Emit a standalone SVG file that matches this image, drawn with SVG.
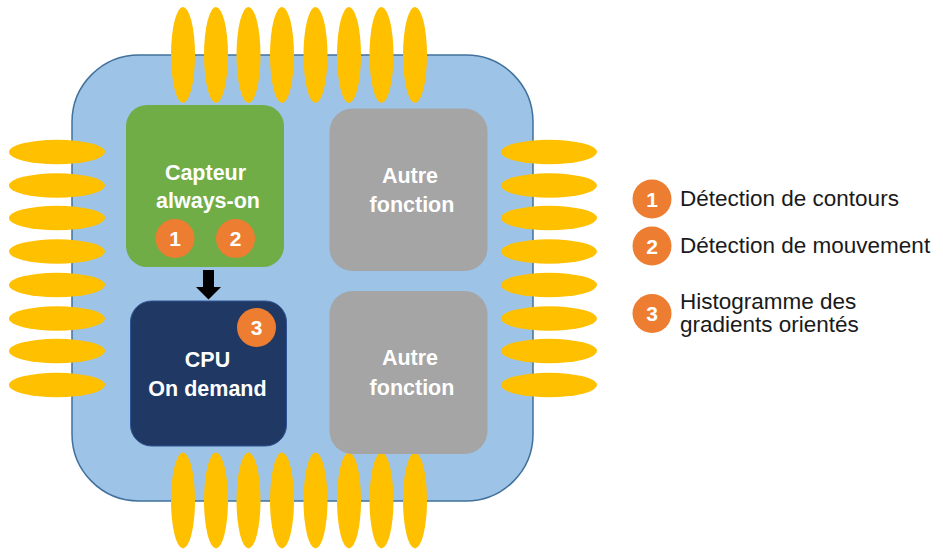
<svg xmlns="http://www.w3.org/2000/svg" width="943" height="552" viewBox="0 0 943 552">
<style>
.pin{fill:#FFC000}
.box{font-family:"Liberation Sans",Arial,sans-serif;font-weight:bold;font-size:21.5px;fill:#FFFFFF;text-anchor:middle}
.badge{fill:#ED7D31}
.num{font-family:"Liberation Sans",Arial,sans-serif;font-weight:bold;font-size:21px;fill:#FFFFFF;text-anchor:middle}
.leg{font-family:"Liberation Sans",Arial,sans-serif;font-size:22.5px;fill:#1a1a1a}
</style>
<rect width="943" height="552" fill="#FFFFFF"/>
<g id="chip">
<rect x="72" y="55" width="461" height="446" rx="67" ry="67" fill="#9DC3E6" stroke="#41719C" stroke-width="1.5"/>
</g>
<g id="pins">
<ellipse class="pin" cx="183" cy="55" rx="12" ry="48"/>
<ellipse class="pin" cx="216" cy="55" rx="12" ry="48"/>
<ellipse class="pin" cx="248.5" cy="55" rx="12" ry="48"/>
<ellipse class="pin" cx="282" cy="55" rx="12" ry="48"/>
<ellipse class="pin" cx="315.5" cy="55" rx="12" ry="48"/>
<ellipse class="pin" cx="349" cy="55" rx="12" ry="48"/>
<ellipse class="pin" cx="381.5" cy="55" rx="12" ry="48"/>
<ellipse class="pin" cx="415" cy="55" rx="12" ry="48"/>
<ellipse class="pin" cx="183" cy="500.5" rx="12" ry="48"/>
<ellipse class="pin" cx="216" cy="500.5" rx="12" ry="48"/>
<ellipse class="pin" cx="248.5" cy="500.5" rx="12" ry="48"/>
<ellipse class="pin" cx="282" cy="500.5" rx="12" ry="48"/>
<ellipse class="pin" cx="315.5" cy="500.5" rx="12" ry="48"/>
<ellipse class="pin" cx="349" cy="500.5" rx="12" ry="48"/>
<ellipse class="pin" cx="381.5" cy="500.5" rx="12" ry="48"/>
<ellipse class="pin" cx="415" cy="500.5" rx="12" ry="48"/>
<ellipse class="pin" cx="57" cy="152" rx="48" ry="12.3"/>
<ellipse class="pin" cx="57" cy="185.5" rx="48" ry="12.3"/>
<ellipse class="pin" cx="57" cy="218" rx="48" ry="12.3"/>
<ellipse class="pin" cx="57" cy="251.5" rx="48" ry="12.3"/>
<ellipse class="pin" cx="57" cy="285" rx="48" ry="12.3"/>
<ellipse class="pin" cx="57" cy="318.5" rx="48" ry="12.3"/>
<ellipse class="pin" cx="57" cy="351" rx="48" ry="12.3"/>
<ellipse class="pin" cx="57" cy="385" rx="48" ry="12.3"/>
<ellipse class="pin" cx="549" cy="152" rx="48" ry="12.3"/>
<ellipse class="pin" cx="549" cy="185.5" rx="48" ry="12.3"/>
<ellipse class="pin" cx="549" cy="218" rx="48" ry="12.3"/>
<ellipse class="pin" cx="549" cy="251.5" rx="48" ry="12.3"/>
<ellipse class="pin" cx="549" cy="285" rx="48" ry="12.3"/>
<ellipse class="pin" cx="549" cy="318.5" rx="48" ry="12.3"/>
<ellipse class="pin" cx="549" cy="351" rx="48" ry="12.3"/>
<ellipse class="pin" cx="549" cy="385" rx="48" ry="12.3"/>
</g>
<g id="capteur">
<rect x="126" y="105" width="158" height="162" rx="21" fill="#70AD47"/>
<text class="box" x="205.5" y="180">Capteur</text>
<text class="box" x="208" y="208">always-on</text>
<circle class="badge" cx="175" cy="238.5" r="19.5"/>
<text class="num" x="175" y="246">1</text>
<circle class="badge" cx="235.5" cy="238.5" r="19.5"/>
<text class="num" x="235.5" y="246">2</text>
</g>
<g id="cpu">
<rect x="130.5" y="301" width="156" height="145" rx="21" fill="#203864" stroke="#2F5597" stroke-width="1"/>
<text class="box" x="207.5" y="367">CPU</text>
<text class="box" x="207.5" y="396">On demand</text>
<circle class="badge" cx="256.5" cy="327.5" r="19.5"/>
<text class="num" x="256.5" y="335">3</text>
</g>
<g id="autre1">
<rect x="329.5" y="108.5" width="158" height="162.5" rx="23" fill="#A5A5A5"/>
<text class="box" x="410" y="183">Autre</text>
<text class="box" x="412" y="212">fonction</text>
</g>
<g id="autre2">
<rect x="329.5" y="291" width="158" height="163" rx="23" fill="#A5A5A5"/>
<text class="box" x="410" y="365">Autre</text>
<text class="box" x="412" y="394.5">fonction</text>
</g>
<g id="connectors">
<polygon points="203,270 214,270 214,287 221,287 208.5,299.5 196,287 203,287" fill="#000000"/>
</g>
<g id="legend1">
<circle class="badge" cx="652" cy="199" r="19.5"/>
<text class="num" x="652" y="206.5">1</text>
<text class="leg" x="680" y="206">Détection de contours</text>
</g>
<g id="legend2">
<circle class="badge" cx="652" cy="246" r="19.5"/>
<text class="num" x="652" y="253.5">2</text>
<text class="leg" x="680" y="253">Détection de mouvement</text>
</g>
<g id="legend3">
<circle class="badge" cx="652" cy="313.5" r="19.5"/>
<text class="num" x="652" y="321">3</text>
<text class="leg" x="680" y="309">Histogramme des</text>
<text class="leg" x="680" y="332">gradients orientés</text>
</g>
</svg>
